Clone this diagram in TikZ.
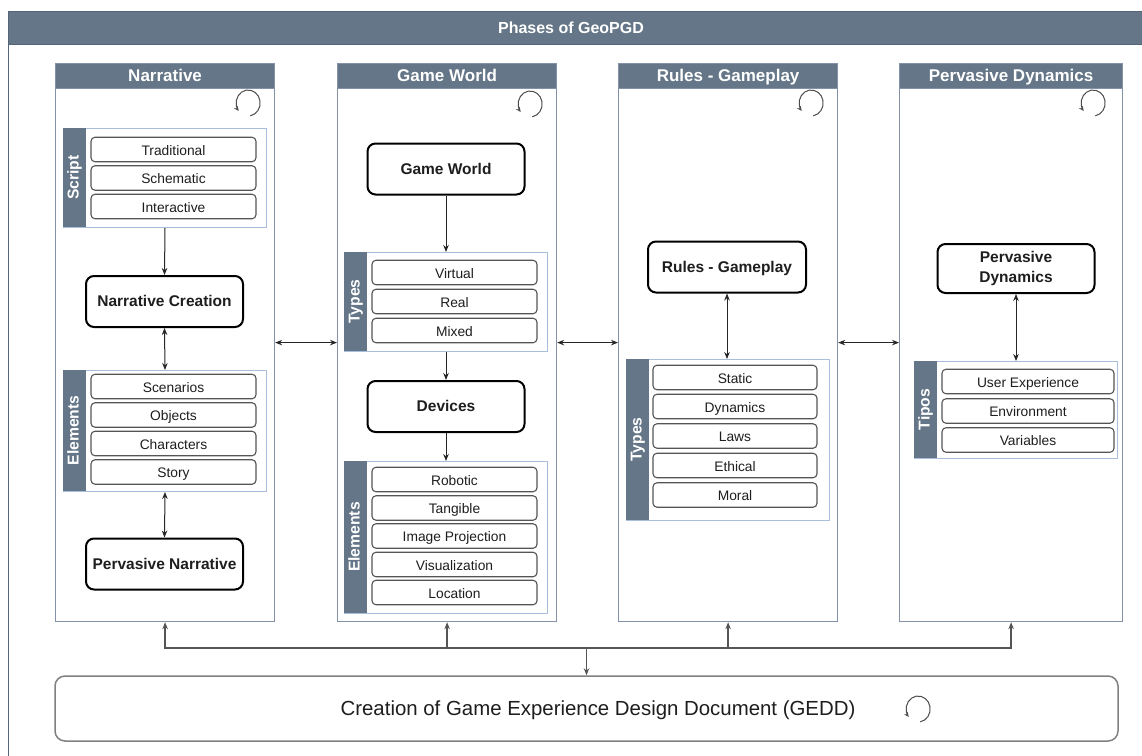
\documentclass[tikz,border=0pt]{standalone}
\usepackage{fontspec}
\setmainfont{Liberation Sans}
\usetikzlibrary{arrows.meta}
\definecolor{slate}{HTML}{647687}
\definecolor{framec}{HTML}{56667A}
\definecolor{colc}{HTML}{8392A6}
\definecolor{grpc}{HTML}{A8BEDC}
\definecolor{itemc}{HTML}{555555}
\definecolor{txt}{HTML}{1E1E1E}
\definecolor{busc}{HTML}{555555}

\tikzset{
  every node/.style={text=txt, font=\fontsize{13.8}{16}\selectfont},
  frame/.style={draw=framec, line width=1.3pt, fill=white, anchor=north west, inner sep=0pt},
  framehead/.style={draw=framec, line width=1.3pt, fill=slate, anchor=north west, inner sep=0pt},
  title/.style={text=white, font=\bfseries\fontsize{16}{19}\selectfont},
  colbody/.style={draw=colc, line width=1.2pt, fill=white, anchor=north west,
    minimum width=#1, minimum height=558pt, inner sep=0pt},
  colhead/.style={draw=colc, line width=1.2pt, fill=slate, anchor=north west,
    minimum width=#1, minimum height=25pt, inner sep=0pt, text=white,
    text height=13pt, text depth=2.4pt,
    font=\bfseries\fontsize{17}{20}\selectfont},
  grp/.style={draw=grpc, line width=1pt, fill=white, anchor=north west,
    minimum width=203pt, minimum height=#1, inner sep=0pt},
  side/.style={fill=slate, rotate=90, minimum width=#1, minimum height=23pt,
    inner sep=0pt, text=white, text height=11.4pt, text depth=3.3pt,
    font=\bfseries\fontsize{15.7}{18}\selectfont},
  item/.style={draw=itemc, line width=1.1pt, rounded corners=4pt, fill=white,
    minimum width=#1, minimum height=24.5pt, inner sep=0pt,
    text height=12pt, text depth=0.9pt},
  mainbox/.style={draw=black, line width=2pt, rounded corners=8pt, fill=white,
    minimum width=157pt, minimum height=51pt, inner sep=0pt, align=center,
    font=\bfseries\fontsize{15.5}{19.5}\selectfont},
  oneline/.style={text height=12.2pt, text depth=1.3pt},
  gedd/.style={draw=black!50, line width=1.5pt, rounded corners=10pt, fill=white,
    minimum width=1063pt, minimum height=65pt, inner sep=0pt,
    text height=16pt, text depth=2pt,
    font=\fontsize{20.4}{24}\selectfont},
  tip/.tip={Stealth[length=7pt,width=5.5pt]},
  arr/.style={draw=black!85, line width=1pt, -tip},
  darr/.style={draw=black!85, line width=1pt, tip-tip},
  busarr/.style={draw=busc, line width=1.3pt, -tip},
  cyc/.style={draw=black!70, line width=1pt, -{Stealth[length=5pt,width=4.5pt]}},
}

% refresh / iteration icon centred at (#1,#2)
\newcommand\cycleicon[2]{%
  \draw[cyc] (#1,#2) ++(80:13) arc[start angle=80, end angle=-218, x radius=12, y radius=13];}

\begin{document}
\begin{tikzpicture}[x=1pt,y=-1pt]
\useasboundingbox (0,0) rectangle (1142,755);
\clip (0,0) rectangle (1142,755);
\fill[white] (0,0) rectangle (1142,755);

% outer container
\node[frame, minimum width=1160pt, minimum height=770pt] (frame) at (8,11) {};
\node[framehead, minimum width=1160pt, minimum height=33pt] (framehead) at (8,11) {};
\node[title] (title) at (571,27.5) {Phases of GeoPGD};

% ---------------- Narrative ----------------
\node[colbody=219pt] (ncol) at (55,63) {};
\node[colhead=219pt] (nhead) at (55,63) {Narrative};
\cycleicon{248}{103}

\node[grp=99pt] (nscript) at (63,128) {};
\node[side=99pt] (nscriptlab) at (74.5,177.5) {Script};
\node[item=165pt] (trad) at (173.5,149.5) {Traditional};
\node[item=165pt] (sche) at (173.5,178) {Schematic};
\node[item=165pt] (inter) at (173.5,206.5) {Interactive};

\node[mainbox, oneline] (ncreate) at (164.5,301.5) {Narrative Creation};

\node[grp=121pt] (nelem) at (63,370) {};
\node[side=121pt] (nelemlab) at (74.5,430.5) {Elements};
\node[item=165pt] (scen) at (173.5,386.5) {Scenarios};
\node[item=165pt] (obj) at (173.5,415) {Objects};
\node[item=165pt] (chars) at (173.5,443.5) {Characters};
\node[item=165pt] (story) at (173.5,472) {Story};

\node[mainbox, oneline] (pnarr) at (164.5,564) {Pervasive Narrative};

\draw[arr] (nscript.south) -- (ncreate.north);
\draw[darr] (ncreate.south) -- (nelem.north);
\draw[darr] (nelem.south) -- (pnarr.north);

% ---------------- Game World ----------------
\node[colbody=219pt] (gcol) at (337,63) {};
\node[colhead=219pt] (ghead) at (337,63) {Game World};
\cycleicon{530}{104}

\node[mainbox, oneline] (gworld) at (446,169) {Game World};

\node[grp=99pt] (gtypes) at (344,252) {};
\node[side=99pt] (gtypeslab) at (355.5,301.5) {Types};
\node[item=165pt] (virt) at (454.5,272.5) {Virtual};
\node[item=165pt] (real) at (454.5,301.5) {Real};
\node[item=165pt] (mixed) at (454.5,330.5) {Mixed};

\node[mainbox, oneline] (devices) at (446,406.5) {Devices};

\node[grp=152pt] (gelem) at (344,461) {};
\node[side=152pt] (gelemlab) at (355.5,537) {Elements};
\node[item=165pt] (robot) at (454.5,479.5) {Robotic};
\node[item=165pt] (tang) at (454.5,508) {Tangible};
\node[item=165pt] (imgp) at (454.5,536) {Image Projection};
\node[item=165pt] (visu) at (454.5,564.5) {Visualization};
\node[item=165pt] (loc) at (454.5,592.5) {Location};

\draw[arr] (gworld.south) -- (gtypes.north);
\draw[arr] (gtypes.south) -- (devices.north);
\draw[arr] (devices.south) -- (gelem.north);

% ---------------- Rules - Gameplay ----------------
\node[colbody=219pt] (rcol) at (618,63) {};
\node[colhead=219pt] (rhead) at (618,63) {Rules - Gameplay};
\cycleicon{811}{103}

\node[mainbox, oneline, minimum width=158pt] (rules) at (727,267) {Rules - Gameplay};

\node[grp=161pt] (rtypes) at (626,359) {};
\node[side=161pt] (rtypeslab) at (637.5,439.5) {Types};
\node[item=164pt] (stat) at (735,377.5) {Static};
\node[item=164pt] (dyn) at (735,406.5) {Dynamics};
\node[item=164pt] (laws) at (735,436) {Laws};
\node[item=164pt] (eth) at (735,465.5) {Ethical};
\node[item=164pt] (moral) at (735,495) {Moral};

\draw[darr] (rules.south) -- (rules.south |- rtypes.north);

% ---------------- Pervasive Dynamics ----------------
\node[colbody=223pt] (pcol) at (899,63) {};
\node[colhead=223pt] (phead) at (899,63) {Pervasive Dynamics};
\cycleicon{1093}{103}

\node[mainbox, minimum height=49pt] (pdyn) at (1016,268.5) {Pervasive\\Dynamics};

\node[grp=97pt] (ptipos) at (914,361) {};
\node[side=97pt] (ptiposlab) at (925.5,409.5) {Tipos};
\node[item=172pt] (ux) at (1028,381.5) {User Experience};
\node[item=172pt] (env) at (1028,411) {Environment};
\node[item=172pt] (vars) at (1028,440) {Variables};

\draw[darr] (pdyn.south) -- (pdyn.south |- ptipos.north);

% ---------------- links between phases ----------------
\draw[darr] (ncol.east) -- (gcol.west);
\draw[darr] (gcol.east) -- (rcol.west);
\draw[darr] (rcol.east) -- (pcol.west);

% ---------------- GEDD ----------------
\node[gedd] (geddbox) at (586.5,708.5) {\hspace*{23pt}Creation of Game Experience Design Document (GEDD)};
\cycleicon{918}{709}

\coordinate (bus) at (586.5,648);
\draw[busarr] (bus) -- (geddbox.north);
\draw[busarr] (bus) -| (ncol.south);
\draw[busarr] (bus) -| (gcol.south);
\draw[busarr] (bus) -| (rcol.south);
\draw[busarr] (bus) -| (pcol.south);
\end{tikzpicture}
\end{document}
